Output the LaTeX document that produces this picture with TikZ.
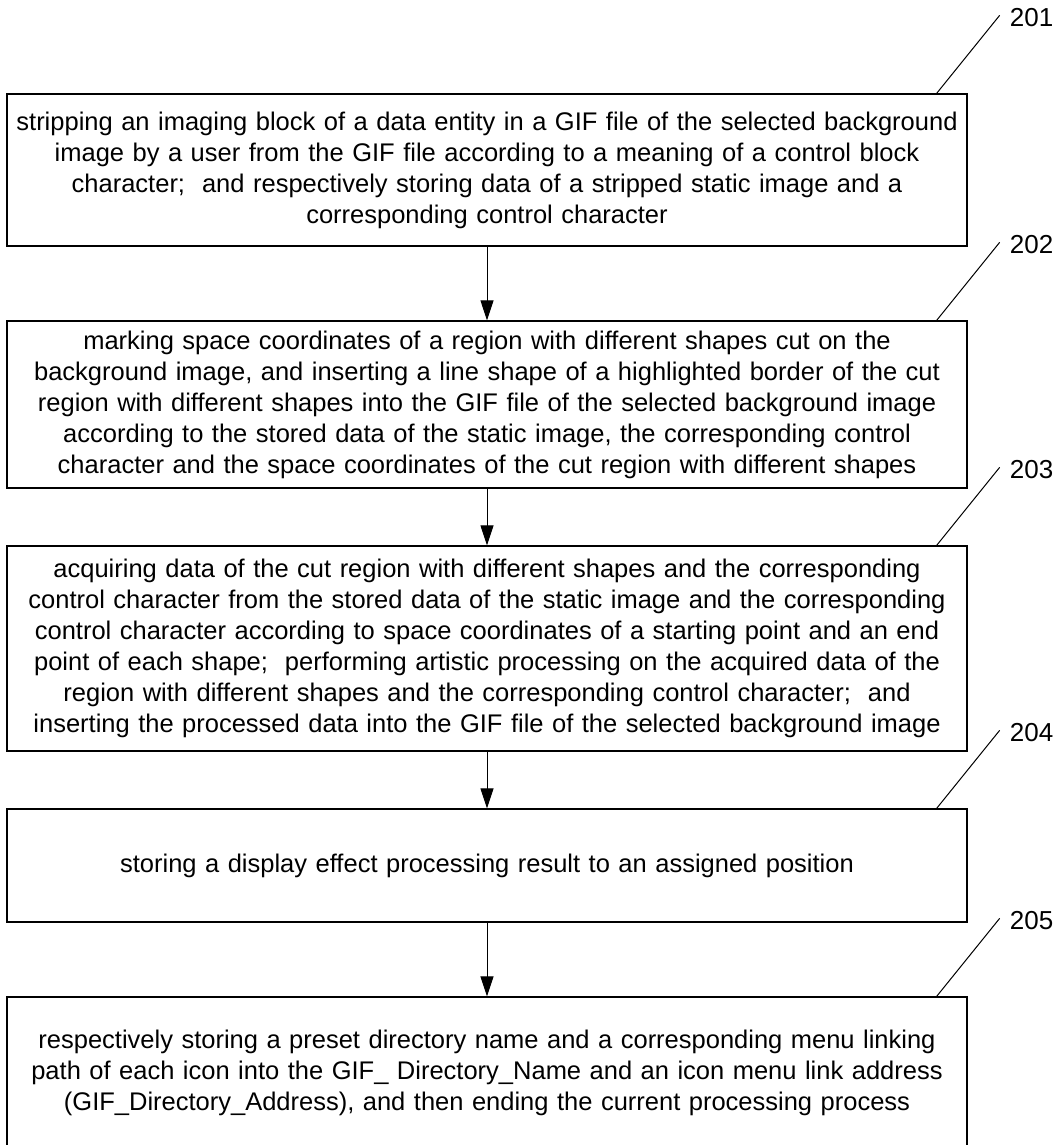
\documentclass[tikz,border=0pt]{standalone}
\usepackage{fontspec}
\setmainfont{Liberation Sans}
\usetikzlibrary{arrows.meta,calc}

\begin{document}
\begin{tikzpicture}[x=1pt,y=-1pt,
		stepbox/.style={draw, line width=1.3pt, rectangle, minimum width=960pt,
			text width=955pt, align=center, inner sep=0pt,
			font=\fontsize{25.5}{31}\selectfont},
		ref tag/.style={anchor=west, inner sep=0pt, font=\fontsize{26}{28}\selectfont},
		flow/.style={-{Triangle[length=20pt,width=13pt]}, line width=1pt},
		leader/.style={line width=1pt}]
			\useasboundingbox (0,0) rectangle (1058,1145);
			\clip (0,0) rectangle (1058,1145);
			% box for 201
			\node[stepbox, minimum height=152pt] (b1) at (487,170)
				{stripping an imaging block of a data entity in a GIF file of the selected background\\
				image by a user from the GIF file according to a meaning of a control block\\
				character;\ \ and respectively storing data of a stripped static image and a\\
				corresponding control character};
			% box for 202
			\node[stepbox, minimum height=167pt] (b2) at (487,404.5)
				{marking space coordinates of a region with different shapes cut on the\\
				background image, and inserting a line shape of a highlighted border of the cut\\
				region with different shapes into the GIF file of the selected background image\\
				according to the stored data of the static image, the corresponding control\\
				character and the space coordinates of the cut region with different shapes};
			% box for 203
			\node[stepbox, minimum height=205pt] (b3) at (487,648.5)
				{acquiring data of the cut region with different shapes and the corresponding\\
				control character from the stored data of the static image and the corresponding\\
				control character according to space coordinates of a starting point and an end\\
				point of each shape;\ \ performing artistic processing on the acquired data of the\\
				region with different shapes and the corresponding control character;\ \ and\\
				inserting the processed data into the GIF file of the selected background image};
			% box for 204
			\node[stepbox, minimum height=113pt] (b4) at (487,865.5)
				{storing a display effect processing result to an assigned position};
			% box for 205 (runs past the lower edge)
			\node[stepbox, minimum height=152pt] (b5) at (487,1073)
				{respectively storing a preset directory name and a corresponding menu linking\\
				path of each icon into the GIF\_ Directory\_Name and an icon menu link address\\
				(GIF\_Directory\_Address), and then ending the current processing process};
			% arrows
			\draw[flow] (b1.south) -- (b2.north);
			\draw[flow] (b2.south) -- (b3.north);
			\draw[flow] (b3.south) -- (b4.north);
			\draw[flow] (b4.south) -- (b5.north);
			% reference numbers
			\foreach \i in {1,...,5} {
				\node[ref tag] (t\i) at ($(b\i.north east)+(42,-76)$) {20\i};
				\draw[leader] ($(b\i.north east)+(-31,0)$) -- ($(t\i.west)+(-10,-2)$);
			}
		\end{tikzpicture}
\end{document}
